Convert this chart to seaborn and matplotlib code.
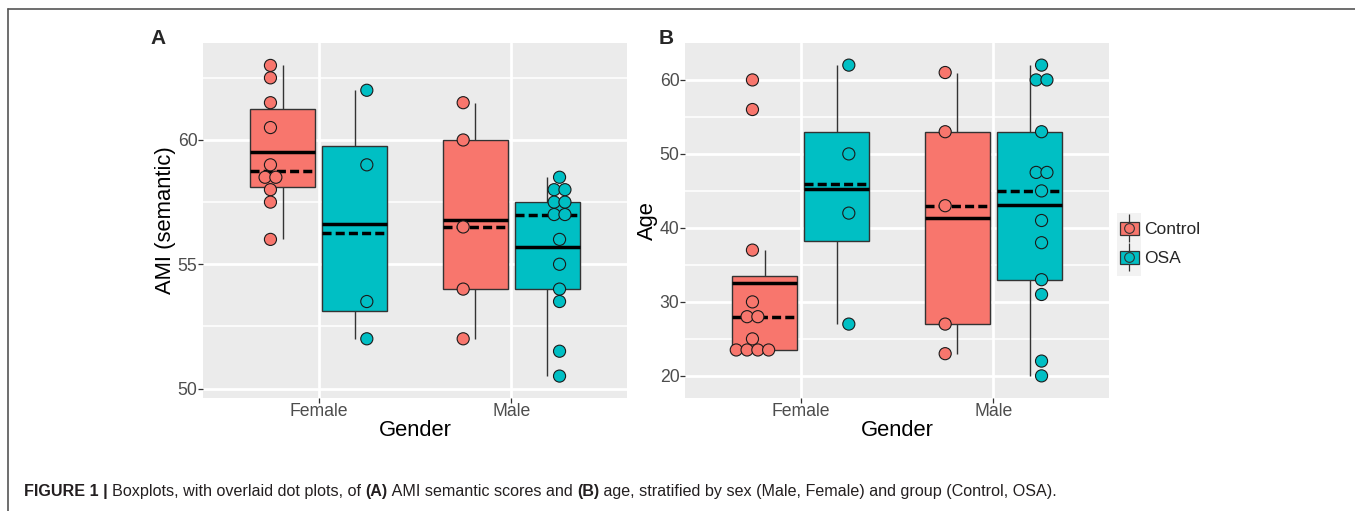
import numpy as np
import pandas as pd
import matplotlib
matplotlib.use("Agg")
import matplotlib.pyplot as plt
import seaborn as sns
from matplotlib.lines import Line2D
from matplotlib.patches import Patch, Rectangle
from matplotlib.legend_handler import HandlerTuple
from matplotlib.ticker import MultipleLocator, FixedLocator

# ---------------- data ----------------
genders = ["Female", "Male"]
groups = ["Control", "OSA"]
group_colors = ["#F8766D", "#00BFC4"]

ami_female_control = [63, 62.5, 61.5, 60.5, 59, 58.5, 58.5, 58, 57.5, 56]
ami_female_osa = [62, 59, 53.5, 52]
ami_male_control = [61.5, 60, 56.5, 54, 52]
ami_male_osa = [58.5, 58, 58, 57.5, 57.5, 57, 57, 56, 55, 54, 53.5, 51.5, 50.5]

age_female_control = [60, 56, 37, 30, 28, 28, 25, 23.5, 23.5, 23.5, 23.5]
age_female_osa = [62, 50, 42, 27]
age_male_control = [61, 53, 43, 27, 23]
age_male_osa = [62, 60, 60, 53, 47.5, 47.5, 45, 41, 38, 33, 31, 22, 20]

ami_ticks = [50, 55, 60]
age_ticks = [20, 30, 40, 50, 60]

caption_parts = [
    ("FIGURE 1 | ", "bold"),
    ("Boxplots, with overlaid dot plots, of ", "normal"),
    ("(A)", "bold"),
    (" AMI semantic scores and ", "normal"),
    ("(B)", "bold"),
    (" age, stratified by sex (Male, Female) and group (Control, OSA).", "normal"),
]


def build(ff, fo, mf, mo, col):
    rows = []
    for g, grp, vals in [("Female", "Control", ff), ("Female", "OSA", fo),
                         ("Male", "Control", mf), ("Male", "OSA", mo)]:
        for v in vals:
            rows.append((g, grp, v))
    return pd.DataFrame(rows, columns=["Gender", "Group", col])


def add_dot_positions(df, col, dodge=0.25, spacing=0.056):
    keys = ["Gender", "Group", col]
    rank = df.groupby(keys).cumcount()
    n = df.groupby(keys)[col].transform("size")
    gpos = df["Gender"].map({g: i for i, g in enumerate(genders)})
    hoff = df["Group"].map({"Control": -dodge, "OSA": dodge})
    df["xpos"] = gpos + hoff + (rank - (n - 1) / 2.0) * spacing
    return df


ami = add_dot_positions(build(ami_female_control, ami_female_osa,
                              ami_male_control, ami_male_osa, "AMI"), "AMI")
age = add_dot_positions(build(age_female_control, age_female_osa,
                              age_male_control, age_male_osa, "Age"), "Age")

# ---------------- style ----------------
sns.set_theme(style="darkgrid")
plt.rcParams.update({
    "font.family": ["Liberation Sans", "DejaVu Sans"],
    "axes.facecolor": "#EBEBEB",
    "figure.facecolor": "white",
})

W, H = 1355, 511
fig = plt.figure(figsize=(W / 100, H / 100), dpi=100)


def fx(px):
    return px / W


def fy(py):
    return 1 - py / H


axA = fig.add_axes([fx(203), fy(397.7), fx(627) - fx(203), fy(43.3) - fy(397.7)])
axB = fig.add_axes([fx(685), fy(397.7), fx(1109) - fx(685), fy(43.3) - fy(397.7)])


def panel(ax, df, col, ylabel, ylim, ticks, minor):
    sns.boxplot(data=df, x="Gender", y=col, hue="Group", order=genders,
                hue_order=groups, palette=group_colors, saturation=1,
                width=0.75, gap=0.1, linecolor="#333333", linewidth=1.0,
                showfliers=False, showcaps=False, showmeans=True, meanline=True,
                meanprops=dict(color="black", linestyle="-", linewidth=2.5),
                medianprops=dict(color="black", linestyle=(0, (2.6, 1.2)),
                                 linewidth=2.5),
                legend=False, ax=ax)
    sns.scatterplot(data=df, x="xpos", y=col, hue="Group", hue_order=groups,
                    palette=group_colors, s=76, edgecolor="#1a1a1a",
                    linewidth=0.8, legend=False, ax=ax, zorder=6)
    ax.set_xlim(-0.6, 1.6)
    ax.set_ylim(*ylim)
    ax.xaxis.set_major_locator(FixedLocator([0, 1]))
    ax.set_xticklabels(genders)
    ax.yaxis.set_major_locator(FixedLocator(ticks))
    ax.set_yticklabels([str(t) for t in ticks])
    ax.yaxis.set_minor_locator(MultipleLocator(minor))
    ax.grid(False)
    ax.grid(True, which="major", axis="both", color="white", linewidth=2.0)
    ax.grid(True, which="minor", axis="y", color="white", linewidth=1.1)
    ax.set_axisbelow(True)
    for s in ax.spines.values():
        s.set_visible(False)
    ax.tick_params(which="major", length=3.5, width=0.9, color="#333333",
                   labelcolor="#4D4D4D", labelsize=12.7, pad=0.5,
                   bottom=True, left=True)
    ax.tick_params(which="minor", length=0)
    ax.set_xlabel("Gender", fontsize=15.8, color="black", labelpad=0)
    ax.set_ylabel(ylabel, fontsize=15.8, color="black", labelpad=1)


panel(axA, ami, "AMI", "AMI (semantic)", (49.63, 63.89), ami_ticks, 2.5)
panel(axB, age, "Age", "Age", (17.05, 64.95), age_ticks, 5)

fig.text(fx(158), fy(38), "A", fontsize=15, fontweight="bold", ha="center", va="center")
fig.text(fx(666), fy(38), "B", fontsize=15, fontweight="bold", ha="center", va="center")

# ---------------- legend ----------------
fig.add_artist(Rectangle((fx(1117), fy(276)), fx(1141) - fx(1117), fy(213) - fy(276),
                         transform=fig.transFigure, facecolor="#F2F2F2",
                         edgecolor="none", zorder=0))
handles = []
for c in group_colors:
    vline = Line2D([], [], color="#333333", marker="|", markersize=20,
                   markeredgewidth=0.9, linestyle="none")
    patch = Patch(facecolor=c, edgecolor="#333333", linewidth=0.9)
    circ = Line2D([], [], marker="o", markersize=7, markerfacecolor=c,
                  markeredgecolor="#333333", markeredgewidth=0.8, linestyle="none")
    handles.append((vline, patch, circ))
fig.legend(handles, groups, handler_map={tuple: HandlerTuple(ndivide=1, pad=0)},
           loc="center left", bbox_to_anchor=(fx(1120), fy(244)), frameon=False,
           fontsize=12.5, handlelength=1.09, handleheight=0.86,
           labelspacing=0.75, handletextpad=0.3, borderpad=0, borderaxespad=0)

# ---------------- frame ----------------
fig.add_artist(Line2D([fx(8), 1], [fy(9), fy(9)], transform=fig.transFigure,
                      color="#555555", linewidth=1.2))
fig.add_artist(Line2D([fx(8), fx(8)], [fy(9), 0], transform=fig.transFigure,
                      color="#555555", linewidth=1.2))

# ---------------- caption ----------------
renderer = fig.canvas.get_renderer()
x = fx(24)
for txt, weight in caption_parts:
    t = fig.text(x, fy(496), txt, fontsize=11.6, fontweight=weight,
                 color="#231F20", ha="left", va="baseline")
    bb = t.get_window_extent(renderer=renderer)
    x += bb.width / W

fig.savefig("out.png", dpi=100)
